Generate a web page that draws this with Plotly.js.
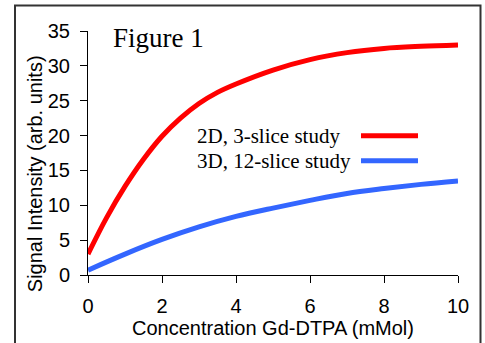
<!DOCTYPE html>
<html>
<head>
<meta charset="utf-8">
<script src="https://cdn.plot.ly/plotly-3.0.1.min.js"></script>
<style>html,body{margin:0;padding:0;background:#fff;}#chart{width:485px;height:343px;}</style>
</head>
<body>
<div id="chart"></div>
<script>
// Data
const concentration2D = [0, 0.5, 1, 1.5, 2, 2.5, 3, 3.5, 4, 5, 6, 7, 8, 9, 10];
const signal2D = [3.0, 8.2, 12.7, 16.6, 19.9, 22.5, 24.6, 26.2, 27.4, 29.4, 30.9, 31.9, 32.5, 32.8, 33.0];
const concentration3D = [0, 1, 2, 3, 4, 5, 6, 7, 8, 9, 10];
const signal3D = [0.7, 3.0, 5.1, 6.9, 8.4, 9.6, 10.7, 11.7, 12.4, 13.0, 13.5];
const seriesNames = ["2D, 3-slice study", "3D, 12-slice study"];
const seriesColors = ["#ff0000", "#3366ff"];
const xTickVals = [0, 2, 4, 6, 8, 10];
const yTickVals = [0, 5, 10, 15, 20, 25, 30, 35];
const xTitle = "Concentration Gd-DTPA (mMol)";
const yTitle = "Signal Intensity (arb. units)";
const figLabel = "Figure 1";

// pixel -> paper helpers (plot area: x 88..458, y 31..275.5)
const L = 88, R = 27, T = 31, B = 67.5, W = 485, H = 343;
const pw = W - L - R, ph = H - T - B;
const px = v => (v - L) / pw;
const py = v => (H - B - v) / ph;

const traces = [
  {x: concentration2D, y: signal2D, name: seriesNames[0], mode: 'lines',
   line: {color: seriesColors[0], width: 5, shape: 'spline', smoothing: 1}},
  {x: concentration3D, y: signal3D, name: seriesNames[1], mode: 'lines',
   line: {color: seriesColors[1], width: 5, shape: 'spline', smoothing: 1}}
];

const legendY = [136, 161];
const annotations = [
  {text: figLabel, xref: 'paper', yref: 'paper', x: px(111), y: py(38.5), xanchor: 'left', yanchor: 'middle',
   showarrow: false, font: {family: 'Liberation Serif, Times New Roman, serif', size: 27, color: '#000'}},
  {text: yTitle, xref: 'paper', yref: 'paper', x: px(35), y: py(174.5), xanchor: 'center', yanchor: 'middle',
   textangle: -90, showarrow: false, font: {family: 'Liberation Sans, Arial, sans-serif', size: 20, color: '#000'}}
];
const shapes = [
  {type: 'rect', xref: 'paper', yref: 'paper', x0: px(15), x1: px(480.5), y0: py(360), y1: py(5.5),
   line: {color: '#333', width: 2}, fillcolor: 'rgba(0,0,0,0)'}
];
seriesNames.forEach((n, i) => {
  annotations.push({text: n, xref: 'paper', yref: 'paper', x: px(195), y: py(legendY[i]),
    xanchor: 'left', yanchor: 'middle', showarrow: false,
    font: {family: 'Liberation Serif, Times New Roman, serif', size: 21, color: '#000'}});
  shapes.push({type: 'line', xref: 'paper', yref: 'paper', x0: px(361), x1: px(418),
    y0: py(legendY[i]), y1: py(legendY[i]), line: {color: seriesColors[i], width: 5}});
});

const axisCommon = {
  showline: true, linecolor: '#000', linewidth: 1, ticks: 'outside', ticklen: 7, tickwidth: 1,
  tickcolor: '#000', showgrid: false, zeroline: false, mirror: false,
  tickfont: {family: 'Liberation Sans, Arial, sans-serif', size: 20, color: '#000'}
};

const layout = {
  width: W, height: H,
  margin: {l: L, r: R, t: T, b: B, pad: 0},
  paper_bgcolor: '#fff', plot_bgcolor: '#fff',
  showlegend: false,
  xaxis: Object.assign({}, axisCommon, {range: [0, 10], tickvals: xTickVals, ticklabelstandoff: 6,
    title: {text: xTitle, standoff: 3, font: {family: 'Liberation Sans, Arial, sans-serif', size: 20, color: '#000'}}}),
  yaxis: Object.assign({}, axisCommon, {range: [0, 35], tickvals: yTickVals, ticklabelstandoff: 6}),
  annotations: annotations,
  shapes: shapes
};

Plotly.newPlot('chart', traces, layout, {displayModeBar: false, staticPlot: true});
</script>
</body>
</html>
